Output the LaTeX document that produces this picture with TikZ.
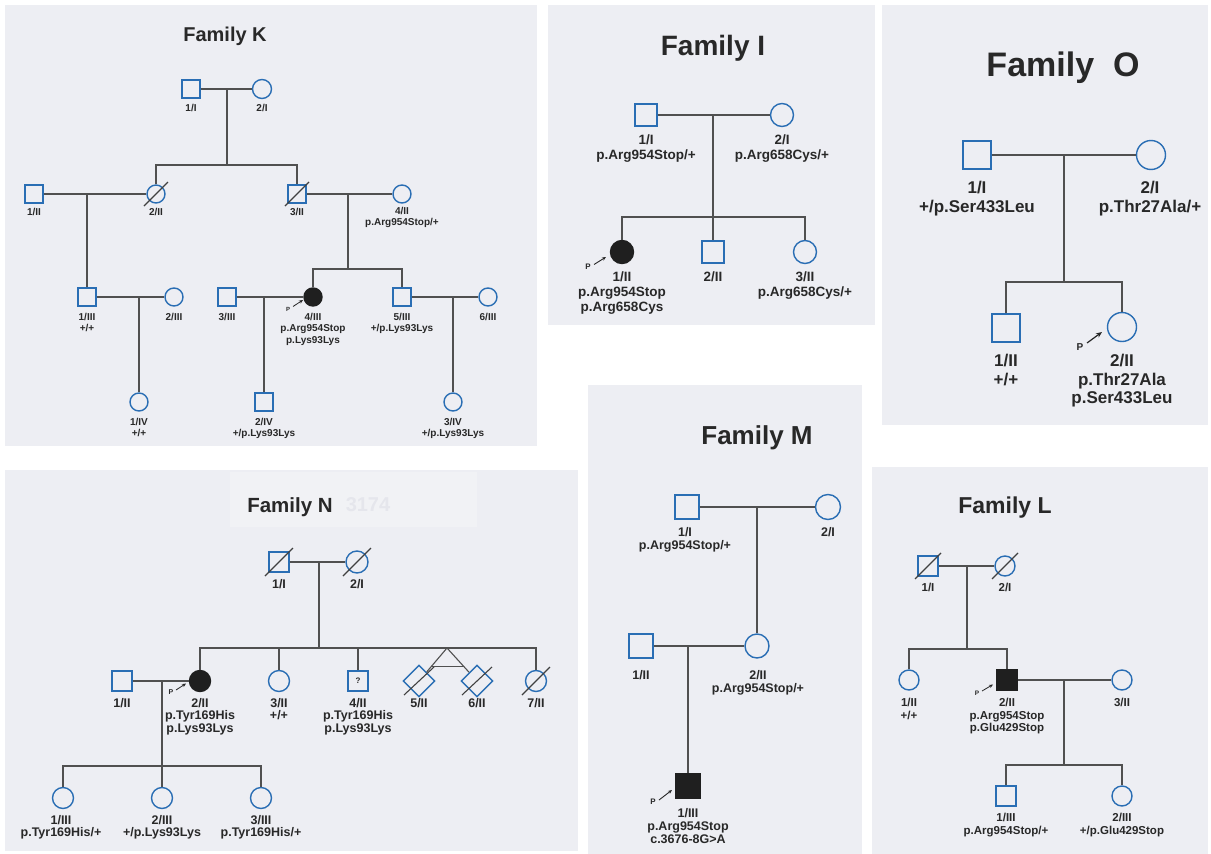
\documentclass[tikz,border=0pt]{standalone}
\usepackage{fontspec}
\setmainfont{Liberation Sans}
\usetikzlibrary{shapes.geometric,arrows.meta,calc}
\definecolor{panel}{RGB}{237,238,243}
\definecolor{patch}{RGB}{241,242,245}
\definecolor{wmark}{RGB}{229,230,236}
\definecolor{symb}{RGB}{42,110,180}
\definecolor{ln}{RGB}{80,80,80}
\definecolor{txt}{RGB}{40,40,40}
\newcommand{\decslash}[3]{\draw[slashln] ([shift={(-#2,#3)}]#1.center) -- ([shift={(#2,-#3)}]#1.center);}
\begin{document}
\begin{tikzpicture}[x=1pt,y=-1pt,
  conn/.style={draw=ln,line width=1.1pt},
  slashln/.style={draw=black!75,line width=1.1pt},
  male/.style={rectangle,draw=symb,line width=1.4pt,fill=panel,minimum size=#1,inner sep=0pt},
  female/.style={circle,draw=symb,line width=1.4pt,fill=panel,minimum size=#1,inner sep=0pt},
  twin/.style={diamond,draw=symb,line width=1.4pt,fill=panel,minimum size=#1,inner sep=0pt},
  aff/.style={fill=black!88,draw=black!88},
  ttl/.style={font=\bfseries\fontsize{#1}{#1}\selectfont,text=txt,inner sep=0pt},
  pP/.style={font=\bfseries\fontsize{#1}{#1}\selectfont,text=txt,inner sep=0pt},
  parrow/.style={draw=black!85,line width=#1,-{Stealth[length=4pt,width=3.4pt]}},
  labbase/.style={anchor=north,align=center,inner sep=0pt,text=txt},
  labK/.style={labbase,font=\bfseries\fontsize{10}{11.5}\selectfont},
  labI/.style={labbase,font=\bfseries\fontsize{13.5}{15}\selectfont},
  labO/.style={labbase,font=\bfseries\fontsize{17}{18.5}\selectfont},
  labN/.style={labbase,font=\bfseries\fontsize{12.5}{12.5}\selectfont},
  labM/.style={labbase,font=\bfseries\fontsize{12.5}{13}\selectfont},
  labL/.style={labbase,font=\bfseries\fontsize{11.5}{12.5}\selectfont}
]
\useasboundingbox (0,0) rectangle (1211,854);
\fill[white] (0,0) rectangle (1211,854);
% panels
\fill[panel] (5,5) rectangle (537,446);
\fill[panel] (548,5) rectangle (875,325);
\fill[panel] (882,5) rectangle (1208,425);
\fill[panel] (5,470) rectangle (578,851);
\fill[panel] (588,385) rectangle (862,854);
\fill[panel] (872,467) rectangle (1208,854);
\fill[patch] (230,472) rectangle (477,527);

%================ Family K ================
\node[ttl=20] (tK) at (225,36) {Family K};
\node[male=18] (k11) at (191,89) {};
\node[female=19] (k12) at (262,89) {};
\node[male=18] (kII1) at (34,194) {};
\node[female=18] (kII2) at (156,194) {};
\node[male=18] (kII3) at (297,194) {};
\node[female=18] (kII4) at (402,194) {};
\node[male=18] (kIII1) at (87,297) {};
\node[female=18] (kIII2) at (174,297) {};
\node[male=18] (kIII3) at (227,297) {};
\node[female=18,aff] (kIII4) at (313,297) {};
\node[male=18] (kIII5) at (402,297) {};
\node[female=18] (kIII6) at (488,297) {};
\node[female=18] (kIV1) at (139,402) {};
\node[male=18] (kIV2) at (264,402) {};
\node[female=18] (kIV3) at (453,402) {};
\coordinate (kd1) at (227,89);
\coordinate (ks1) at (227,165);
\coordinate (kd2) at (87,194);
\coordinate (kd3) at (348,194);
\coordinate (ks3) at (348,269);
\coordinate (kd4) at (139,297);
\coordinate (kd5) at (264,297);
\coordinate (kd6) at (453,297);
\draw[conn] (k11) -- (k12);
\draw[conn] (kd1) -- (ks1);
\draw[conn] (kII2.north) -- (kII2.north |- ks1) -- (kII3.north |- ks1) -- (kII3.north);
\draw[conn] (kII1) -- (kII2);
\draw[conn] (kd2) -- (kIII1.north);
\draw[conn] (kII3) -- (kII4);
\draw[conn] (kd3) -- (ks3);
\draw[conn] (kIII4.north) -- (kIII4.north |- ks3) -- (kIII5.north |- ks3) -- (kIII5.north);
\draw[conn] (kIII1) -- (kIII2);
\draw[conn] (kd4) -- (kIV1.north);
\draw[conn] (kIII3) -- (kIII4);
\draw[conn] (kd5) -- (kIV2.north);
\draw[conn] (kIII5) -- (kIII6);
\draw[conn] (kd6) -- (kIV3.north);
\decslash{kII2}{12}{12}
\decslash{kII3}{12}{12}
\node[labK] (lk11) at (191,104.5) {1/I};
\node[labK] (lk12) at (262,104.5) {2/I};
\node[labK] (lkII1) at (34,208) {1/II};
\node[labK] (lkII2) at (156,208) {2/II};
\node[labK] (lkII3) at (297,208) {3/II};
\node[labK] (lkII4) at (402,207) {4/II\\p.Arg954Stop/+};
\node[labK] (lkIII1) at (87,313) {1/III\\+/+};
\node[labK] (lkIII2) at (174,313) {2/III};
\node[labK] (lkIII3) at (227,313) {3/III};
\node[labK] (lkIII4) at (313,313) {4/III\\p.Arg954Stop\\p.Lys93Lys};
\node[labK] (lkIII5) at (402,313) {5/III\\+/p.Lys93Lys};
\node[labK] (lkIII6) at (488,313) {6/III};
\node[labK] (lkIV1) at (139,418) {1/IV\\+/+};
\node[labK] (lkIV2) at (264,418) {2/IV\\+/p.Lys93Lys};
\node[labK] (lkIV3) at (453,418) {3/IV\\+/p.Lys93Lys};
\node[pP=6] (kP) at (288,309) {P};
\coordinate (kPs) at (293,306.5);
\coordinate (kPt) at (303,300);
\draw[parrow=0.8pt] (kPs) -- (kPt);

%================ Family I ================
\node[ttl=28] (tI) at (713,48) {Family I};
\node[male=22] (i11) at (646,115) {};
\node[female=23] (i12) at (782,115) {};
\node[female=23,aff] (iII1) at (622,252) {};
\node[male=22] (iII2) at (713,252) {};
\node[female=23] (iII3) at (805,252) {};
\coordinate (id) at (713,115);
\coordinate (is) at (713,217);
\draw[conn] (i11) -- (i12);
\draw[conn] (id) -- (iII2.north);
\draw[conn] (iII1.north) -- (iII1.north |- is) -- (iII3.north |- is) -- (iII3.north);
\node[labI] (li11) at (646,135) {1/I\\p.Arg954Stop/+};
\node[labI] (li12) at (782,135) {2/I\\p.Arg658Cys/+};
\node[labI] (liII1) at (622,272) {1/II\\p.Arg954Stop\\p.Arg658Cys};
\node[labI] (liII2) at (713,272) {2/II};
\node[labI] (liII3) at (805,272) {3/II\\p.Arg658Cys/+};
\node[pP=8] (iP) at (588,267) {P};
\coordinate (iPs) at (594,264.5);
\coordinate (iPt) at (606,257);
\draw[parrow=0.9pt] (iPs) -- (iPt);

%================ Family O ================
\node[ttl=34] (tO) at (1063,68) {Family~~O};
\begin{scope}[every node/.append style={line width=2.2pt}]
\node[male=28] (o11) at (977,155) {};
\node[female=29] (o12) at (1151,155) {};
\node[male=28] (oII1) at (1006,328) {};
\node[female=29] (oII2) at (1122,327) {};
\end{scope}
\coordinate (od) at (1064,155);
\coordinate (os) at (1064,282);
\draw[conn,line width=1.3pt] (o11) -- (o12);
\draw[conn,line width=1.3pt] (od) -- (os);
\draw[conn,line width=1.3pt] (oII1.north) -- (oII1.north |- os) -- (oII2.north |- os) -- (oII2.north);
\node[labO] (lo11) at (977,181) {1/I\\+/p.Ser433Leu};
\node[labO] (lo12) at (1150,181) {2/I\\p.Thr27Ala/+};
\node[labO] (loII1) at (1006,354) {1/II\\+/+};
\node[labO] (loII2) at (1122,354) {2/II\\p.Thr27Ala\\p.Ser433Leu};
\node[pP=10] (oP) at (1080,347) {P};
\coordinate (oPs) at (1087,343);
\coordinate (oPt) at (1102,332);
\draw[draw=black!85,line width=1.2pt,-{Stealth[length=6pt,width=5pt]}] (oPs) -- (oPt);

%================ Family N ================
\node[text=wmark,font=\bfseries\fontsize{20}{20}\selectfont,inner sep=0pt] (wm) at (368,505) {3174};
\node[ttl=20.5] (tN) at (290,507) {Family N};
\node[male=20] (n11) at (279,562) {};
\node[female=22] (n12) at (357,562) {};
\node[male=20] (nII1) at (122,681) {};
\node[female=21,aff] (nII2) at (200,681) {};
\node[female=21] (nII3) at (279,681) {};
\node[male=20,font=\bfseries\fontsize{8}{8}\selectfont,text=txt] (nII4) at (358,681) {?};
\node[twin=32] (nII5) at (419,681) {};
\node[twin=32] (nII6) at (477,681) {};
\node[female=21] (nII7) at (536,681) {};
\node[female=21] (nIII1) at (63,798) {};
\node[female=21] (nIII2) at (162,798) {};
\node[female=21] (nIII3) at (261,798) {};
\coordinate (nd) at (319,562);
\coordinate (ns) at (319,648);
\coordinate (ntw) at (447,648);
\coordinate (nd2) at (162,681);
\coordinate (ns2) at (162,766);
\draw[conn] (n11) -- (n12);
\draw[conn] (nd) -- (ns);
\draw[conn] (nII2.north) -- (nII2.north |- ns) -- (nII7.north |- ns) -- (nII7.north);
\draw[conn] (nII3.north) -- (nII3.north |- ns);
\draw[conn] (nII4.north) -- (nII4.north |- ns);
\draw[conn] (ntw) -- (nII5);
\draw[conn] (ntw) -- (nII6);
\draw[conn] ($(ntw)!0.55!(nII5)$) -- ($(ntw)!0.55!(nII6)$);
\draw[conn] (nII1) -- (nII2);
\draw[conn] (nd2) -- (nIII2.north);
\draw[conn] (nIII1.north) -- (nIII1.north |- ns2) -- (nIII3.north |- ns2) -- (nIII3.north);
\decslash{n11}{14}{14}
\decslash{n12}{14}{14}
\decslash{nII5}{15}{14}
\decslash{nII6}{15}{14}
\decslash{nII7}{14}{14}
\node[labN] (ln11) at (279,579) {1/I};
\node[labN] (ln12) at (357,579) {2/I};
\node[labN] (lnII1) at (122,698) {1/II};
\node[labN] (lnII2) at (200,698) {2/II\\p.Tyr169His\\p.Lys93Lys};
\node[labN] (lnII3) at (279,698) {3/II\\+/+};
\node[labN] (lnII4) at (358,698) {4/II\\p.Tyr169His\\p.Lys93Lys};
\node[labN] (lnII5) at (419,698) {5/II};
\node[labN] (lnII6) at (477,698) {6/II};
\node[labN] (lnII7) at (536,698) {7/II};
\node[labN] (lnIII1) at (61,815) {1/III\\p.Tyr169His/+};
\node[labN] (lnIII2) at (162,815) {2/III\\+/p.Lys93Lys};
\node[labN] (lnIII3) at (261,815) {3/III\\p.Tyr169His/+};
\node[pP=7] (nP) at (171,692) {P};
\coordinate (nPs) at (176,690);
\coordinate (nPt) at (186,683.5);
\draw[parrow=0.8pt] (nPs) -- (nPt);

%================ Family M ================
\node[ttl=26] (tM) at (757,438) {Family M};
\node[male=24] (m11) at (687,507) {};
\node[female=25] (m12) at (828,507) {};
\node[male=24] (mII1) at (641,646) {};
\node[female=24] (mII2) at (757,646) {};
\node[male=24,aff] (mIII1) at (688,786) {};
\coordinate (md) at (757,507);
\coordinate (md2) at (688,646);
\draw[conn] (m11) -- (m12);
\draw[conn] (md) -- (mII2.north);
\draw[conn] (mII1) -- (mII2);
\draw[conn] (md2) -- (mIII1.north);
\node[labM] (lm11) at (685,527.5) {1/I\\p.Arg954Stop/+};
\node[labM] (lm12) at (828,527.5) {2/I};
\node[labM] (lmII1) at (641,670.5) {1/II};
\node[labM] (lmII2) at (758,670.5) {2/II\\p.Arg954Stop/+};
\node[labM] (lmIII1) at (688,808.5) {1/III\\p.Arg954Stop\\c.3676-8G>A};
\node[pP=8] (mP) at (653,802) {P};
\coordinate (mPs) at (659,800);
\coordinate (mPt) at (672,790);
\draw[parrow=0.9pt] (mPs) -- (mPt);

%================ Family L ================
\node[ttl=23] (tL) at (1005,508) {Family L};
\node[male=20] (l11) at (928,566) {};
\node[female=20] (l12) at (1005,566) {};
\node[female=20] (lII1) at (909,680) {};
\node[male=20,aff] (lII2) at (1007,680) {};
\node[female=20] (lII3) at (1122,680) {};
\node[male=20] (lIII1) at (1006,796) {};
\node[female=20] (lIII2) at (1122,796) {};
\coordinate (ld) at (967,566);
\coordinate (ls) at (967,649);
\coordinate (ld2) at (1064,680);
\coordinate (ls2) at (1064,765);
\draw[conn] (l11) -- (l12);
\draw[conn] (ld) -- (ls);
\draw[conn] (lII1.north) -- (lII1.north |- ls) -- (lII2.north |- ls) -- (lII2.north);
\draw[conn] (lII2) -- (lII3);
\draw[conn] (ld2) -- (ls2);
\draw[conn] (lIII1.north) -- (lIII1.north |- ls2) -- (lIII2.north |- ls2) -- (lIII2.north);
\decslash{l11}{13}{13}
\decslash{l12}{13}{13}
\node[labL] (ll11) at (928,583) {1/I};
\node[labL] (ll12) at (1005,583) {2/I};
\node[labL] (llII1) at (909,698) {1/II\\+/+};
\node[labL] (llII2) at (1007,698) {2/II\\p.Arg954Stop\\p.Glu429Stop};
\node[labL] (llII3) at (1122,698) {3/II};
\node[labL] (llIII1) at (1006,813) {1/III\\p.Arg954Stop/+};
\node[labL] (llIII2) at (1122,813) {2/III\\+/p.Glu429Stop};
\node[pP=6.5] (lP) at (977,693) {P};
\coordinate (lPs) at (982,691);
\coordinate (lPt) at (993,684.5);
\draw[parrow=0.8pt] (lPs) -- (lPt);
\end{tikzpicture}
\end{document}
